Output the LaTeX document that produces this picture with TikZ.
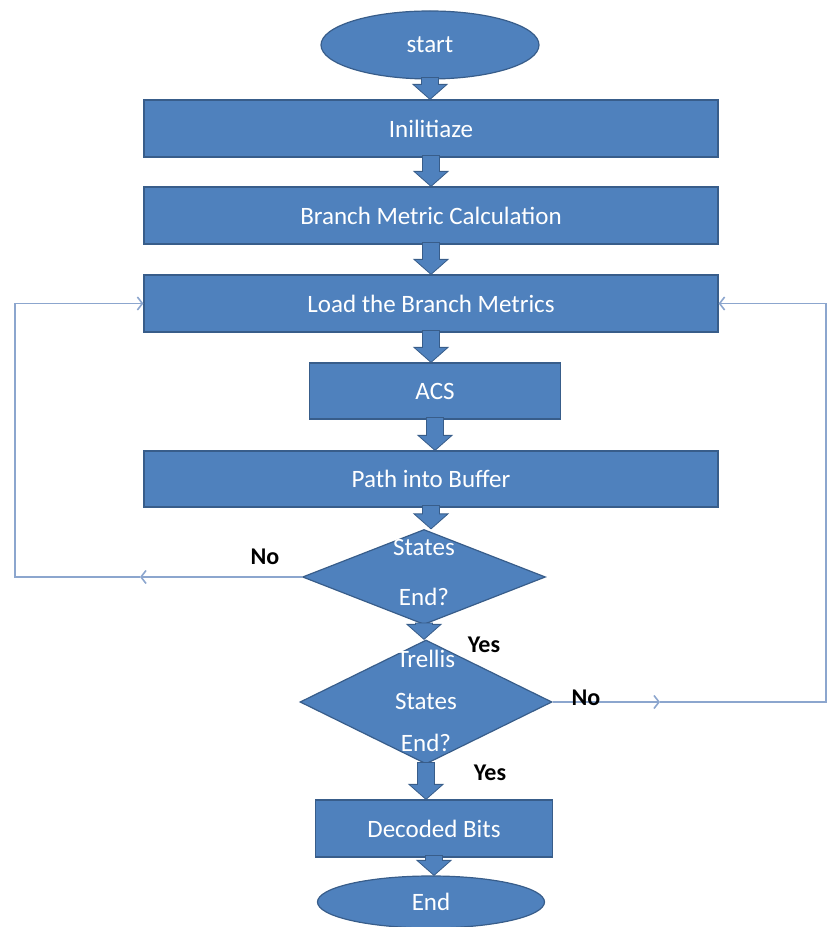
\documentclass[tikz,border=0pt]{standalone}
\usepackage{fontspec}
\setmainfont{Carlito}
\usetikzlibrary{shapes.geometric,arrows.meta,calc}
\definecolor{boxblue}{HTML}{4F81BD}
\definecolor{edgeblue}{HTML}{385D8A}
\definecolor{loopblue}{HTML}{8CA6CE}
% block arrow from the bottom of one node to the top of the next
\newcommand{\flowarrow}[2]{%
  \filldraw[blockarr] let \p1=(#1.south), \p2=(#2.north) in
    (\x1-8.5pt,\y1+2pt) -- (\x1-8.5pt,\y2+15pt) -- (\x1-17pt,\y2+15pt) -- (\x1,\y2)
    -- (\x1+17pt,\y2+15pt) -- (\x1+8.5pt,\y2+15pt) -- (\x1+8.5pt,\y1+2pt) -- cycle;}
\begin{document}
\begin{tikzpicture}[x=1pt,y=1pt,
    every node/.style={font=\fontsize{25}{30}\selectfont},
    procbox/.style={rectangle,fill=boxblue,draw=edgeblue,line width=1.2pt,text=white,minimum height=57pt,inner sep=0pt},
    terminal/.style={ellipse,fill=boxblue,draw=edgeblue,line width=1.2pt,text=white,inner sep=0pt},
    decision/.style={diamond,fill=boxblue,draw=edgeblue,line width=1.2pt,text=white,inner sep=0pt},
    blockarr/.style={fill=boxblue,draw=edgeblue,line width=0.8pt},
    loopline/.style={draw=loopblue,line width=1.6pt,-{Straight Barb[length=5pt,width=13pt]}},
    answer/.style={font=\fontsize{24}{28}\selectfont\bfseries,text=black}]
\useasboundingbox (0,0) rectangle (829,927);
\node[terminal,minimum width=218pt,minimum height=68pt] (start) at (430,882) {start};
\node[procbox,minimum width=574pt] (init) at (431,798.5) {Inilitiaze};
\node[procbox,minimum width=574pt] (bmc) at (431,711.5) {Branch Metric Calculation};
\node[procbox,minimum width=574pt] (load) at (431,623.5) {Load the Branch Metrics};
\node[procbox,minimum width=251pt,minimum height=56pt] (acs) at (435,536) {ACS};
\node[procbox,minimum width=574pt,minimum height=56pt] (buffer) at (431,448) {Path into Buffer};
\node[decision,minimum width=243pt,minimum height=95pt] (states) at (424,350)
    {\smash{\raisebox{-4pt}{\begin{tabular}{@{}c@{}}States\\[20pt]End?\end{tabular}}}};
\node[decision,minimum width=252pt,minimum height=124pt] (trellis) at (426,225)
    {\smash{\raisebox{-8pt}{\begin{tabular}{@{}c@{}}Trellis\\[12pt]States\\[12pt]End?\end{tabular}}}};
\node[procbox,minimum width=237pt] (bits) at (434,98.5) {Decoded Bits};
\node[terminal,minimum width=227pt,minimum height=52pt] (end) at (431,25) {End};

\flowarrow{start}{init}
\flowarrow{init}{bmc}
\flowarrow{bmc}{load}
\flowarrow{load}{acs}
\flowarrow{acs}{buffer}
\flowarrow{buffer}{states}
\flowarrow{states}{trellis}
\flowarrow{trellis}{bits}
\flowarrow{bits}{end}

% loops back to the branch metrics
\coordinate (leftmid) at (140,350);
\coordinate (rightmid) at (660,225);
\draw[loopline] (states.west) -- (leftmid);
\draw[loopline] (leftmid) -- (15,350) |- (load.west);
\draw[loopline] (trellis.east) -- (rightmid);
\draw[loopline] (rightmid) -- (826,225) |- (load.east);

\node[answer] (no1) at (265,370) {No};
\node[answer] (yes1) at (484,282) {Yes};
\node[answer] (no2) at (586,229) {No};
\node[answer] (yes2) at (490,154) {Yes};
\end{tikzpicture}
\end{document}
